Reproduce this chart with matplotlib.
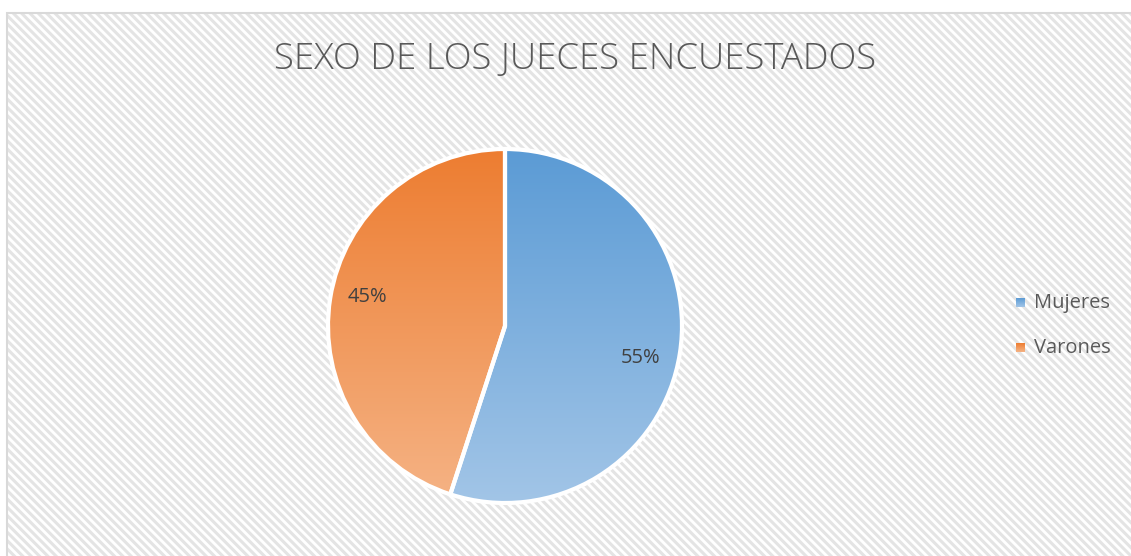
import matplotlib.pyplot as plt
import numpy as np
from matplotlib import font_manager as fm
from matplotlib.colors import LinearSegmentedColormap
from matplotlib.patches import Rectangle

labels = ["Mujeres", "Varones"]
values = [55, 45]
top_colors = ["#5b9bd5", "#ed7d31"]
bottom_colors = ["#a2c5e7", "#f5b385"]

title = "SEXO DE LOS JUECES ENCUESTADOS"


def pick_font(family, weight):
    # choose a non-condensed face of the family so width variants don't sneak in
    best = None
    for f in fm.fontManager.ttflist:
        if f.name != family or f.style != "normal":
            continue
        if f.stretch not in ("normal", 500):
            continue
        w = f.weight if isinstance(f.weight, int) else 400
        d = abs(w - weight)
        if best is None or d < best[0]:
            best = (d, f.fname)
    if best is None:
        return fm.FontProperties(family="DejaVu Sans")
    return fm.FontProperties(fname=best[1])


regular = pick_font("Open Sans", 400)
light = pick_font("Open Sans", 300)
print(regular.get_file(), light.get_file())

plt.rcParams["hatch.linewidth"] = 2.2

W, H = 1131, 556
fig = plt.figure(figsize=(W / 100, H / 100), dpi=100)
ax = fig.add_axes([0, 0, 1, 1])

# hatched chart background + border
ax.add_patch(Rectangle((7, -5), W, H - 13 + 5, facecolor="white",
                       edgecolor="#e4e4e4", hatch="\\\\\\\\", linewidth=0, zorder=0))
ax.add_patch(Rectangle((7, -5), W, H - 13 + 5, facecolor="none",
                       edgecolor="#d9d9d9", linewidth=1.5, zorder=1))

cx, cy, r = 505, H - 326, 177
wedges, _ = ax.pie(values, startangle=90, counterclock=False, center=(cx, cy),
                   radius=r, frame=True,
                   wedgeprops=dict(facecolor="none", edgecolor="none"))

grad = np.linspace(0, 1, 256).reshape(-1, 1)
for w, c0, c1 in zip(wedges, top_colors, bottom_colors):
    cmap = LinearSegmentedColormap.from_list("g", [c0, c1])
    im = ax.imshow(grad, cmap=cmap, extent=(cx - r, cx + r, cy - r, cy + r),
                   origin="upper", aspect="auto", zorder=2)
    im.set_clip_path(w)
    w.set_edgecolor("white")
    w.set_linewidth(3)
    w.set_zorder(3)

# percentage labels
ax.text(641, H - 358, "55%", fontproperties=regular, fontsize=14.5, color="#404040",
        ha="center", va="center", zorder=4)
ax.text(367, H - 297, "45%", fontproperties=regular, fontsize=14.5, color="#404040",
        ha="center", va="center", zorder=4)

ax.text(575, H - 60, title, fontproperties=light, fontsize=26.3, color="#595959",
        ha="center", va="center", zorder=4)

# legend
for i, (lab, c0, c1) in enumerate(zip(labels, top_colors, bottom_colors)):
    y = H - (303 + 45 * i)
    cmap = LinearSegmentedColormap.from_list("g", [c0, c1])
    ax.imshow(grad, cmap=cmap, extent=(1016, 1025, y - 4.5, y + 4.5),
              origin="upper", aspect="auto", zorder=4)
    ax.text(1034, y, lab, fontproperties=regular, fontsize=14.5, color="#595959",
            ha="left", va="center", zorder=4)

ax.set_xlim(0, W)
ax.set_ylim(0, H)
ax.axis("off")

fig.savefig("out.png", dpi=100)
